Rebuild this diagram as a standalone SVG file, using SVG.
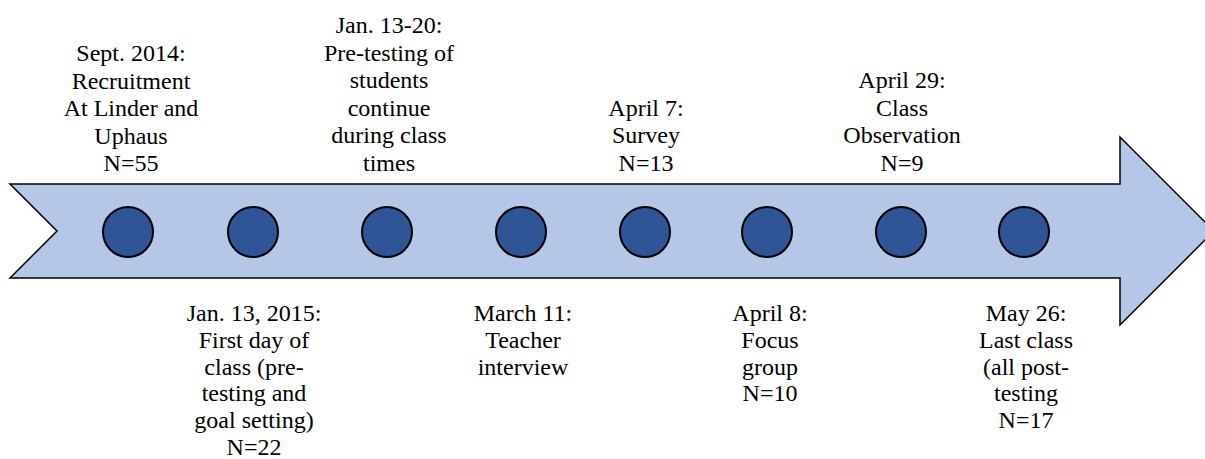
<svg xmlns="http://www.w3.org/2000/svg" width="1205" height="459" viewBox="0 0 1205 459">
<style>
.arrow{fill:#B4C7E7;stroke:#000;stroke-width:1.5}
.dot{fill:#2F5597;stroke:#000;stroke-width:2}
.lbl{font-family:"Liberation Serif","Times New Roman",serif;font-size:24px;fill:#000;text-anchor:middle}
</style>
<rect width="1205" height="459" fill="#fff"/>
<g id="timeline-arrow">
<polygon class="arrow" points="10,184 1120,184 1120,137 1214,231 1120,325 1120,278 10,278 57,231"/>
</g>
<g id="connectors"></g>
<g id="n1"><circle class="dot" cx="128" cy="232" r="25"/>
<text class="lbl"><tspan x="131" y="61">Sept. 2014:</tspan><tspan x="131" y="88.5">Recruitment</tspan><tspan x="131" y="116">At Linder and</tspan><tspan x="131" y="143.5">Uphaus</tspan><tspan x="131" y="171">N=55</tspan></text></g>
<g id="n2"><circle class="dot" cx="253" cy="232" r="25"/>
<text class="lbl"><tspan x="254" y="321">Jan. 13, 2015:</tspan><tspan x="254" y="347.8">First day of</tspan><tspan x="254" y="374.6">class (pre-</tspan><tspan x="254" y="401.4">testing and</tspan><tspan x="254" y="428.2">goal setting)</tspan><tspan x="254" y="455">N=22</tspan></text></g>
<g id="n3"><circle class="dot" cx="387" cy="232" r="25"/>
<text class="lbl"><tspan x="389" y="33">Jan. 13-20:</tspan><tspan x="389" y="60.5">Pre-testing of</tspan><tspan x="389" y="88">students</tspan><tspan x="389" y="115.5">continue</tspan><tspan x="389" y="143">during class</tspan><tspan x="389" y="170.5">times</tspan></text></g>
<g id="n4"><circle class="dot" cx="521" cy="232" r="25"/>
<text class="lbl"><tspan x="523" y="321">March 11:</tspan><tspan x="523" y="347.8">Teacher</tspan><tspan x="523" y="374.6">interview</tspan></text></g>
<g id="n5"><circle class="dot" cx="645" cy="232" r="25"/>
<text class="lbl"><tspan x="646" y="115.5">April 7:</tspan><tspan x="646" y="143">Survey</tspan><tspan x="646" y="170.5">N=13</tspan></text></g>
<g id="n6"><circle class="dot" cx="767" cy="232" r="25"/>
<text class="lbl"><tspan x="770" y="321">April 8:</tspan><tspan x="770" y="347.8">Focus</tspan><tspan x="770" y="374.6">group</tspan><tspan x="770" y="401.4">N=10</tspan></text></g>
<g id="n7"><circle class="dot" cx="901" cy="232" r="25"/>
<text class="lbl"><tspan x="902" y="88">April 29:</tspan><tspan x="902" y="115.5">Class</tspan><tspan x="902" y="143">Observation</tspan><tspan x="902" y="170.5">N=9</tspan></text></g>
<g id="n8"><circle class="dot" cx="1024" cy="232" r="25"/>
<text class="lbl"><tspan x="1026" y="321">May 26:</tspan><tspan x="1026" y="347.8">Last class</tspan><tspan x="1026" y="374.6">(all post-</tspan><tspan x="1026" y="401.4">testing</tspan><tspan x="1026" y="428.2">N=17</tspan></text></g>
</svg>
